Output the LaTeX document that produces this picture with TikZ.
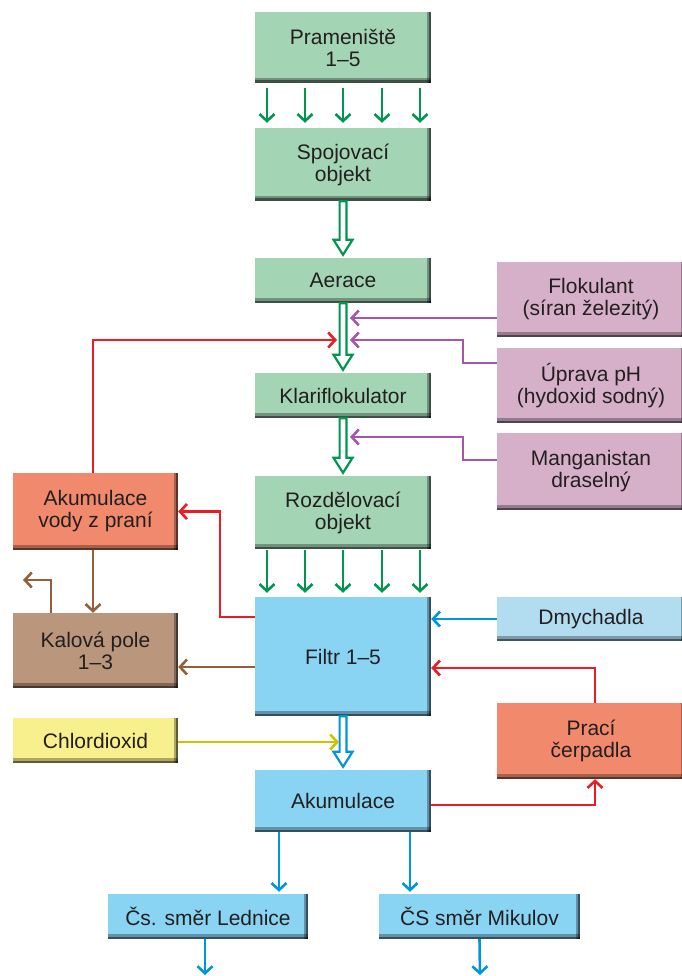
\documentclass[tikz,border=0pt]{standalone}
\usepackage{fontspec}
\setmainfont{Liberation Sans}
\usetikzlibrary{arrows.meta,calc}
\definecolor{gbox}{RGB}{163,212,180}
\definecolor{garr}{RGB}{0,150,80}
\definecolor{pbox}{RGB}{214,176,201}
\definecolor{parr}{RGB}{165,85,170}
\definecolor{rarr}{RGB}{237,28,36}
\definecolor{sbox}{RGB}{241,138,108}
\definecolor{bbox}{RGB}{186,150,124}
\definecolor{brarr}{RGB}{150,95,55}
\definecolor{lbbox}{RGB}{138,212,243}
\definecolor{dbox}{RGB}{178,221,241}
\definecolor{blarr}{RGB}{0,150,218}
\definecolor{ybox}{RGB}{248,240,140}
\definecolor{yarr}{RGB}{205,195,0}
\definecolor{txt}{RGB}{35,31,32}
\newcommand\hollowarrow[3]{%
  \draw[#3, line width=2.2pt, fill=white, line join=miter]
    let \p1=(#1), \p2=(#2) in
    (\x1-3.4pt,\y1) -- (\x1-3.4pt,\y2+18pt) -- (\x1-9.5pt,\y2+18pt) -- (\x1,\y2+3pt)
    -- (\x1+9.5pt,\y2+18pt) -- (\x1+3.4pt,\y2+18pt) -- (\x1+3.4pt,\y1) -- cycle;}
\tikzset{
  box/.style={rectangle, inner sep=0pt, align=center, text=txt,
    font=\fontsize{21}{22}\selectfont,
    path picture={
      \fill[black,opacity=0.3] (path picture bounding box.south west) rectangle ([yshift=5pt]path picture bounding box.south east);
      \fill[black,opacity=0.45] (path picture bounding box.south west) rectangle ([yshift=2.5pt]path picture bounding box.south east);
      \fill[black,opacity=0.3] ([xshift=-4.5pt]path picture bounding box.north east) rectangle (path picture bounding box.south east);
      \fill[black,opacity=0.45] ([xshift=-2pt]path picture bounding box.north east) rectangle (path picture bounding box.south east);
    }},
  conn/.style={line width=2.6pt, -{Straight Barb[length=7pt,width=15pt]}},
  garrow/.style={conn, garr},
  parrow/.style={conn, parr},
  rarrow/.style={conn, rarr},
  brarrow/.style={conn, brarr},
  blarrow/.style={conn, blarr},
  yarrow/.style={conn, yarr},
}
\begin{document}
\begin{tikzpicture}[x=1pt,y=-1pt]
\useasboundingbox[fill=white] (0,0) rectangle (681,976);
% boxes
\node[box, fill=gbox, minimum width=176pt, minimum height=71pt] (pram) at (343,47.5) {Prameniště\\1–5};
\node[box, fill=gbox, minimum width=176pt, minimum height=73pt] (spoj) at (343,164.5) {Spojovací\\objekt};
\node[box, fill=gbox, minimum width=176pt, minimum height=45pt] (aer) at (343,280.5) {Aerace};
\node[box, fill=gbox, minimum width=176pt, minimum height=45pt] (klar) at (343,395.5) {Klariflokulator};
\node[box, fill=gbox, minimum width=176pt, minimum height=73pt] (rozd) at (343,512.5) {Rozdělovací\\objekt};
\node[box, fill=lbbox, minimum width=176pt, minimum height=119pt] (filtr) at (343,656.5) {Filtr 1–5};
\node[box, fill=lbbox, minimum width=176pt, minimum height=62pt] (akum) at (343,801) {Akumulace};
\node[box, fill=pbox, minimum width=188pt, minimum height=75pt] (flok) at (591,299.5) {Flokulant\\(síran železitý)};
\node[box, fill=pbox, minimum width=188pt, minimum height=75pt] (uprava) at (591,385.5) {Úprava pH\\(hydoxid sodný)};
\node[box, fill=pbox, minimum width=188pt, minimum height=77pt] (mang) at (591,471.5) {Manganistan\\draselný};
\node[box, fill=dbox, minimum width=188pt, minimum height=44pt] (dmy) at (591,619) {Dmychadla};
\node[box, fill=sbox, minimum width=188pt, minimum height=76pt] (praci) at (591,741) {Prací\\čerpadla};
\node[box, fill=sbox, minimum width=165pt, minimum height=77pt] (akv) at (95.5,511.5) {Akumulace\\vody z praní};
\node[box, fill=bbox, minimum width=165pt, minimum height=75pt] (kal) at (95.5,650.5) {Kalová pole\\1–3};
\node[box, fill=ybox, minimum width=165pt, minimum height=45pt] (chl) at (95.5,740.5) {Chlordioxid};
\node[box, fill=lbbox, minimum width=200pt, minimum height=45pt] (led) at (208,916.5) {Čs. směr Lednice};
\node[box, fill=lbbox, minimum width=201pt, minimum height=45pt] (mik) at (479.5,916.5) {ČS směr Mikulov};
% multiple green arrows
\foreach \dx in {-76,-38,0,39,77}{
  \draw[garrow, shorten <=5pt, shorten >=5pt] ([xshift=\dx pt]pram.south) -- ([xshift=\dx pt]spoj.north);
  \draw[garrow, shorten <=1pt, shorten >=4pt] ([xshift=\dx pt]rozd.south) -- ([xshift=\dx pt]filtr.north);
}
% hollow arrows
\hollowarrow{spoj.south}{aer.north}{garr}
\hollowarrow{aer.south}{klar.north}{garr}
\hollowarrow{klar.south}{rozd.north}{garr}
\hollowarrow{filtr.south}{akum.north}{blarr}
% inputs on hollow shafts
\coordinate (in1) at (350,318);
\coordinate (in2) at (350,340);
\coordinate (in3) at (350,437);
\coordinate (inr) at (337,340);
\coordinate (iny) at (339,742);
\draw[parrow] (flok.west |- in1) -- (in1);
\draw[parrow] ([yshift=22.5pt]uprava.west) -- ++(-34,0) |- (in2);
\draw[parrow] ([yshift=11.5pt]mang.west) -- ++(-34,0) |- (in3);
\draw[rarrow] ([xshift=-2.5pt]akv.north) |- (inr);
\draw[yarrow] (chl.east |- iny) -- (iny);
% left side
\draw[rarrow] ([yshift=39.5pt]filtr.west) -- ++(-35,0) |- (akv.east);
\draw[brarrow] ([xshift=-2.5pt]akv.south) -- ([xshift=-2.5pt]kal.north);
\coordinate (kalout) at (23,580);
\draw[brarrow] ([xshift=-44.5pt]kal.north) |- (kalout);
\draw[brarrow] ([yshift=-10.5pt]filtr.west) -- ([yshift=-10.5pt]filtr.west -| kal.east);
% right side
\draw[blarrow] (dmy.west) -- (dmy.west -| filtr.east);
\draw[rarrow] ([xshift=4pt]praci.north) |- ([yshift=-11.5pt]filtr.east);
\draw[rarrow] ([yshift=-4pt]akum.east) -| ([xshift=4pt]praci.south);
% outputs
\draw[blarrow, shorten >=2pt] ([xshift=-64pt]akum.south) -- ([xshift=-64pt]akum.south |- led.north);
\draw[blarrow, shorten >=2pt] ([xshift=67pt]akum.south) -- ([xshift=67pt]akum.south |- mik.north);
\coordinate (out1) at (205,975);
\coordinate (out2) at (480,975);
\draw[blarrow] ([xshift=-3pt]led.south) -- (out1);
\draw[blarrow] (mik.south) -- (out2);
\end{tikzpicture}
\end{document}
